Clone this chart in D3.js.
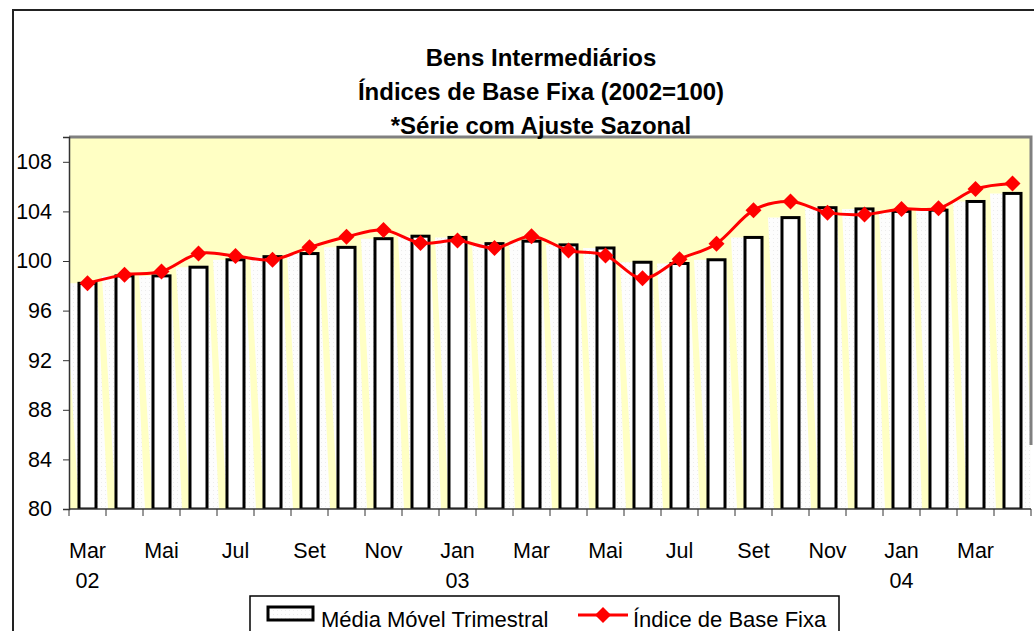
<!DOCTYPE html>
<meta charset="utf-8">
<style>
  body { margin: 0; background: #fff; }
  text { font-family: "Liberation Sans", Arial, sans-serif; fill: #000; }
</style>
<svg width="1034" height="631"></svg>
<script src="https://d3js.org/d3.v7.min.js"></script>
<script>

// data
var months = ["Mar 02","Abr 02","Mai 02","Jun 02","Jul 02","Ago 02","Set 02","Out 02","Nov 02","Dez 02",
              "Jan 03","Fev 03","Mar 03","Abr 03","Mai 03","Jun 03","Jul 03","Ago 03","Set 03","Out 03","Nov 03","Dez 03",
              "Jan 04","Fev 04","Mar 04","Abr 04"];
var mediaMovel = [98.2, 98.8, 98.8, 99.5, 100.1, 100.35, 100.6, 101.1, 101.8, 102.0,
                  101.9, 101.4, 101.6, 101.3, 101.05, 99.9, 99.8, 100.1, 101.9, 103.5, 104.3, 104.2,
                  104.0, 104.1, 104.8, 105.45];
var indiceBase = [98.2, 98.9, 99.15, 100.6, 100.4, 100.1, 101.1, 101.95, 102.5, 101.45,
                  101.65, 101.05, 102.0, 100.85, 100.45, 98.6, 100.15, 101.4, 104.1, 104.8, 103.9, 103.75,
                  104.2, 104.25, 105.8, 106.25];
var monthLabels = ["Mar","","Mai","","Jul","","Set","","Nov","","Jan","","Mar","","Mai","","Jul","","Set","","Nov","","Jan","","Mar",""];
var yearLabels  = ["02","","","","","","","","","","03","","","","","","","","","","","","04","","",""];
var yTicks = [80, 84, 88, 92, 96, 100, 104, 108];
var titleLines = ["Bens Intermediários", "Índices de Base Fixa (2002=100)", "*Série com Ajuste Sazonal"];

var svg = d3.select("svg");
var pL = 69, pR = 1031, pT = 137, pB = 509;

var x = d3.scaleBand().domain(months).range([pL, pR]).paddingInner(0.54).paddingOuter(0.27);
var y = d3.scaleLinear().domain([80, 110]).range([pB, pT]);
var gap = x.step() - x.bandwidth();

// texture for the bar "shadows"
var defs = svg.append("defs");
var pat = defs.append("pattern").attr("id", "tex").attr("width", 4).attr("height", 4).attr("patternUnits", "userSpaceOnUse");
pat.append("rect").attr("width", 4).attr("height", 4).attr("fill", "#fdfdfd");
pat.append("rect").attr("x", 1).attr("y", 2).attr("width", 1).attr("height", 1).attr("fill", "#ececec");
defs.append("clipPath").attr("id", "plotclip").append("rect")
    .attr("x", pL).attr("y", pT).attr("width", pR - pL).attr("height", pB - pT);

// outer frame
svg.append("path").attr("d", "M13,640V10H1040").attr("fill", "none").attr("stroke", "#222").attr("stroke-width", 2);

// plot background
svg.append("rect").attr("x", pL).attr("y", pT).attr("width", pR - pL).attr("height", pB - pT)
    .attr("fill", "#ffffc4");

var plot = svg.append("g").attr("clip-path", "url(#plotclip)");

// slanted white shadows behind the bars
plot.selectAll("path.shadow").data(mediaMovel).enter().append("path")
    .attr("class", "shadow")
    .attr("fill", "url(#tex)")
    .attr("d", function(d, i) {
      var L = x(months[i]), R = L + x.bandwidth(), T = y(d);
      return "M" + L + "," + pB + "L" + (R + 12) + "," + pB + "L" + (R + 1) + "," + T + "L" + (L - 14) + "," + T + "Z";
    });

// bars
plot.selectAll("rect.bar").data(mediaMovel).enter().append("rect")
    .attr("class", "bar")
    .attr("x", function(d, i) { return x(months[i]); })
    .attr("y", function(d) { return y(d); })
    .attr("width", x.bandwidth())
    .attr("height", function(d) { return pB - y(d); })
    .attr("fill", "#fff").attr("stroke", "#000").attr("stroke-width", 3);

// plot border (grey top / right)
svg.append("path").attr("d", "M" + pL + "," + pT + "H" + pR + "V445")
    .attr("fill", "none").attr("stroke", "#808080").attr("stroke-width", 3);

// title
svg.append("g").selectAll("text").data(titleLines).enter().append("text")
    .attr("x", 541).attr("y", function(d, i) { return 66 + i * 34; })
    .attr("text-anchor", "middle").attr("font-weight", "bold").attr("font-size", 24)
    .text(function(d) { return d; });

// line
var line = d3.line()
    .x(function(d, i) { return x(months[i]) + x.bandwidth() / 2; })
    .y(function(d) { return y(d); })
    .curve(d3.curveCatmullRom.alpha(0));
svg.append("path").datum(indiceBase).attr("d", line)
    .attr("fill", "none").attr("stroke", "#ff0000").attr("stroke-width", 3);

var diamond = d3.symbol().type(d3.symbolSquare).size(128);
svg.selectAll("path.pt").data(indiceBase).enter().append("path")
    .attr("class", "pt")
    .attr("d", diamond)
    .attr("transform", function(d, i) { return "translate(" + (x(months[i]) + x.bandwidth() / 2) + "," + y(d) + ") rotate(45)"; })
    .attr("fill", "#ff0000");

// y axis
var yAxis = svg.append("g").attr("transform", "translate(" + pL + ",0)")
    .call(d3.axisLeft(y).tickValues(yTicks).tickSize(6).tickPadding(11));
yAxis.select(".domain").attr("stroke", "#333").attr("stroke-width", 1.5);
yAxis.selectAll(".tick line").attr("stroke", "#333");
yAxis.selectAll("text").attr("font-size", 21.5).attr("font-family", "Liberation Sans, Arial, sans-serif");

// x axis
var xAxis = svg.append("g");
xAxis.append("line").attr("x1", pL).attr("x2", pR).attr("y1", pB).attr("y2", pB)
    .attr("stroke", "#333").attr("stroke-width", 1.5);
var edges = months.map(function(m) { return x(m) - gap / 2; }).concat([x(months[months.length - 1]) + x.bandwidth() + gap / 2]);
xAxis.selectAll("line.tk").data(edges).enter().append("line")
    .attr("x1", function(d) { return d; }).attr("x2", function(d) { return d; })
    .attr("y1", pB).attr("y2", pB + 7).attr("stroke", "#333");
xAxis.selectAll("text.m").data(monthLabels).enter().append("text")
    .attr("x", function(d, i) { return x(months[i]) + x.bandwidth() / 2; })
    .attr("y", 558).attr("text-anchor", "middle").attr("font-size", 21.5)
    .text(function(d) { return d; });
xAxis.selectAll("text.yr").data(yearLabels).enter().append("text")
    .attr("x", function(d, i) { return x(months[i]) + x.bandwidth() / 2; })
    .attr("y", 588).attr("text-anchor", "middle").attr("font-size", 21.5)
    .text(function(d) { return d; });

// legend
var lg = svg.append("g");
lg.append("path").attr("d", "M250,640V596H839V640").attr("fill", "#fff").attr("stroke", "#000").attr("stroke-width", 1.5);
lg.append("rect").attr("x", 268).attr("y", 607).attr("width", 45).attr("height", 13)
    .attr("fill", "url(#tex)").attr("stroke", "#000").attr("stroke-width", 3);
lg.append("text").attr("x", 321).attr("y", 627).attr("font-size", 22).text("Média Móvel Trimestral");
lg.append("line").attr("x1", 578).attr("x2", 628).attr("y1", 615).attr("y2", 615).attr("stroke", "#ff0000").attr("stroke-width", 3);
lg.append("path").attr("d", diamond).attr("transform", "translate(603,615) rotate(45)").attr("fill", "#ff0000");
lg.append("text").attr("x", 633).attr("y", 627).attr("font-size", 22).text("Índice de Base Fixa");

</script>
